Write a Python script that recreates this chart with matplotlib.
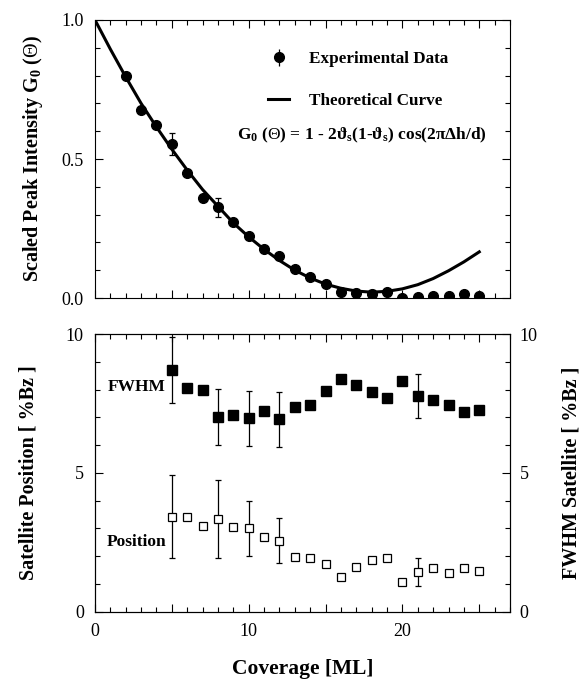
import matplotlib
matplotlib.use("Agg")
import matplotlib.pyplot as plt
from matplotlib.ticker import MultipleLocator, FixedLocator, FuncFormatter
from matplotlib.lines import Line2D

plt.rcParams['font.family'] = ['Liberation Serif', 'DejaVu Serif']
plt.rcParams['mathtext.fontset'] = 'custom'
plt.rcParams['mathtext.rm'] = 'Liberation Serif'
plt.rcParams['mathtext.bf'] = 'Liberation Serif:bold'
plt.rcParams['mathtext.it'] = 'Liberation Serif:italic'

# ---- data ----
cov_top = [2, 3, 4, 5, 6, 7, 8, 9, 10, 11, 12, 13, 14, 15, 16, 17, 18, 19, 20, 21, 22, 23, 24, 25]
g0_exp = [0.798, 0.678, 0.622, 0.553, 0.448, 0.361, 0.326, 0.274, 0.222, 0.178, 0.150, 0.104,
          0.076, 0.049, 0.021, 0.019, 0.016, 0.021, 0.000, 0.004, 0.006, 0.006, 0.013, 0.006]
g0_err = [0, 0, 0, 0.04, 0, 0, 0.033, 0, 0, 0, 0, 0,
          0, 0, 0.012, 0.012, 0.012, 0.012, 0, 0, 0, 0, 0.01, 0]

cov_curve = [0, 1, 2, 3, 4, 5, 6, 7, 8, 9, 10, 11, 12, 13, 14, 15, 16, 17, 18, 19, 20, 21, 22, 23, 24, 25]
g0_theory = [1.0, 0.895, 0.795, 0.70, 0.615, 0.535, 0.46, 0.39, 0.33, 0.27, 0.22, 0.175, 0.135,
             0.10, 0.072, 0.05, 0.035, 0.025, 0.021, 0.024, 0.033, 0.048, 0.07, 0.098, 0.13, 0.166]

cov_bot = [5, 6, 7, 8, 9, 10, 11, 12, 13, 14, 15, 16, 17, 18, 19, 20, 21, 22, 23, 24, 25]
fwhm = [8.70, 8.04, 7.97, 7.02, 7.09, 6.96, 7.24, 6.93, 7.38, 7.45, 7.96, 8.37, 8.16, 7.91,
        7.71, 8.31, 7.77, 7.62, 7.44, 7.20, 7.26]
fwhm_err = [1.2, 0, 0, 1.0, 0, 1.0, 0, 1.0, 0, 0, 0, 0, 0, 0, 0, 0, 0.8, 0, 0, 0, 0]
position = [3.42, 3.42, 3.07, 3.33, 3.06, 3.00, 2.68, 2.56, 1.96, 1.95, 1.71, 1.26, 1.62, 1.86,
            1.95, 1.06, 1.42, 1.58, 1.41, 1.58, 1.48]
position_err = [1.5, 0, 0, 1.4, 0, 1.0, 0, 0.8, 0, 0, 0, 0, 0, 0, 0, 0, 0.5, 0, 0, 0, 0]

fig = plt.figure(figsize=(5.85, 6.87), dpi=100)
ax1 = fig.add_axes([0.1624, 0.5662, 0.7094, 0.4047])
ax2 = fig.add_axes([0.1624, 0.1096, 0.7094, 0.4042])

tick_fs = 13
lab_fs = 14.5
txt_fs = 12.3

# ---- top panel ----
ax1.plot(cov_curve, g0_theory, color='black', lw=2.2, zorder=2)
ax1.errorbar(cov_top, g0_exp, yerr=g0_err, fmt='o', color='black', ms=7,
             elinewidth=0.9, capsize=2.5, capthick=0.9, zorder=3)
ax1.set_xlim(0, 27)
ax1.set_ylim(0, 1.0)
ax1.xaxis.set_major_locator(MultipleLocator(5))
ax1.xaxis.set_minor_locator(MultipleLocator(1))
ax1.yaxis.set_major_locator(FixedLocator([0, 0.5, 1.0]))
ax1.yaxis.set_minor_locator(MultipleLocator(0.1))
ax1.yaxis.set_major_formatter(FuncFormatter(lambda v, p: f"{v:.1f}"))
ax1.tick_params(which='both', direction='in', top=True, right=True, labelbottom=False,
                labelsize=tick_fs, width=0.8)
ax1.tick_params(which='major', length=6, pad=8)
ax1.tick_params(which='minor', length=3.5)
ax1.set_ylabel(r"Scaled Peak Intensity G$_\mathbf{0}$ ($\Theta$)", fontsize=lab_fs,
               fontweight='bold', labelpad=12)

ebh = ax1.errorbar([], [], yerr=[], fmt='o', color='black', ms=7, elinewidth=0.9,
                   capsize=2.5, capthick=0.9)
h_th = Line2D([], [], color='black', lw=2.2)
ax1.legend([ebh, h_th], ["Experimental Data", "Theoretical Curve"],
           loc='upper left', bbox_to_anchor=(0.388, 0.93), frameon=False,
           prop={'weight': 'bold', 'size': txt_fs}, handlelength=1.25,
           handletextpad=1.17, labelspacing=1.5, borderaxespad=0.3)
ax1.text(0.945, 0.585,
         r"G$_\mathbf{0}$ ($\Theta$) = 1 - 2ϑ$_\mathbf{s}$(1-ϑ$_\mathbf{s}$) cos(2πΔh/d)",
         transform=ax1.transAxes, ha='right', va='center', fontsize=12.5, fontweight='bold')

# ---- bottom panel ----
ax2.errorbar(cov_bot, fwhm, yerr=fwhm_err, fmt='s', color='black', ms=7,
             elinewidth=0.9, capsize=2.5, capthick=0.9, zorder=3)
ax2.errorbar(cov_bot, position, yerr=position_err, fmt='s', color='black', mfc='white',
             mec='black', mew=0.9, ms=5.8, elinewidth=0.9, capsize=2.5, capthick=0.9, zorder=3)
ax2.set_xlim(0, 27)
ax2.set_ylim(0, 10)
ax2.xaxis.set_major_locator(MultipleLocator(5))
ax2.xaxis.set_minor_locator(MultipleLocator(1))
ax2.xaxis.set_major_formatter(FuncFormatter(lambda v, p: f"{int(round(v))}" if int(round(v)) % 10 == 0 else ""))
ax2.yaxis.set_major_locator(FixedLocator([0, 5, 10]))
ax2.yaxis.set_minor_locator(MultipleLocator(1))
ax2.tick_params(which='both', direction='in', top=True, right=True, labelsize=tick_fs, width=0.8)
ax2.tick_params(which='major', length=6, pad=8)
ax2.tick_params(which='minor', length=3.5)
ax2.set_ylabel("Satellite Position [ %Bz ]", fontsize=lab_fs, fontweight='bold', labelpad=20)
ax2.set_xlabel("Coverage [ML]", fontsize=15.5, fontweight='bold', labelpad=14)
ax2.text(0.10, 0.81, "FWHM", transform=ax2.transAxes, ha='center', va='center',
         fontsize=12.5, fontweight='bold')
ax2.text(0.10, 0.25, "Position", transform=ax2.transAxes, ha='center', va='center',
         fontsize=12.5, fontweight='bold')

ax3 = ax2.twinx()
ax3.set_ylim(0, 10)
ax3.yaxis.set_major_locator(FixedLocator([0, 5, 10]))
ax3.yaxis.set_minor_locator(MultipleLocator(1))
ax3.tick_params(which='both', direction='in', labelsize=tick_fs, width=0.8)
ax3.tick_params(which='major', length=6, pad=7)
ax3.tick_params(which='minor', length=3.5)
ax3.set_ylabel("FWHM Satellite [ %Bz ]", fontsize=lab_fs, fontweight='bold', labelpad=17)

for a in (ax1, ax2, ax3):
    for s in a.spines.values():
        s.set_linewidth(0.8)

fig.savefig("out.png", dpi=100)
